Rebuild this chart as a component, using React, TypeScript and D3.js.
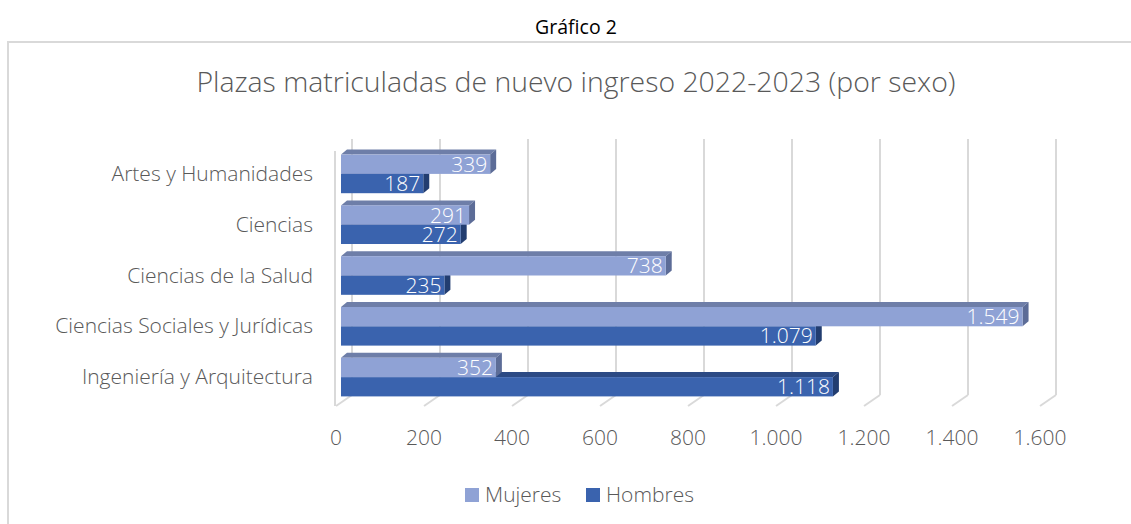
import React from "react";
import * as d3 from "d3";

const categories = [
  "Artes y Humanidades",
  "Ciencias",
  "Ciencias de la Salud",
  "Ciencias Sociales y Jurídicas",
  "Ingeniería y Arquitectura",
];
const mujeres = [339, 291, 738, 1549, 352];
const hombres = [187, 272, 235, 1079, 1118];
const ticks = [0, 200, 400, 600, 800, 1000, 1200, 1400, 1600];
const seriesNames = ["Mujeres", "Hombres"];

const W = 1131;
const H = 524;
const FONT = "'Open Sans', 'Noto Sans', sans-serif";
const GRAY = "#595959";
const FS = 21;

const fmt = (v: number) => {
  const s = String(v);
  return s.length > 3 ? s.slice(0, s.length - 3) + "." + s.slice(-3) : s;
};

export default function App() {
  const x = d3.scaleLinear().domain([0, 1600]).range([336, 1040]);
  const y = d3
    .scaleBand<string>()
    .domain(categories)
    .range([148.5, 402.5])
    .paddingInner(0.24)
    .paddingOuter(0.12);
  const barOff = 5;
  const backOff = 16;
  const dx = 6;
  const dy = -5;
  const floorFront = 406;
  const floorBack = 395;
  const gridTop = 139;

  const colors = {
    Mujeres: { front: "#8FA2D5", top: "#6E7EA8", side: "#5C6C97" },
    Hombres: { front: "#3A63AE", top: "#2C4A84", side: "#223D70" },
  } as Record<string, { front: string; top: string; side: string }>;

  const bar = (
    key: string,
    v: number,
    yTop: number,
    h: number,
    name: string
  ) => {
    const x0 = x(0) + barOff;
    const x1 = x(v) + barOff;
    const c = colors[name];
    return (
      <g key={key}>
        <polygon
          points={`${x0},${yTop} ${x0 + dx},${yTop + dy} ${x1 + dx},${yTop + dy} ${x1},${yTop}`}
          fill={c.top}
        />
        <polygon
          points={`${x1},${yTop} ${x1 + dx},${yTop + dy} ${x1 + dx},${yTop + h + dy} ${x1},${yTop + h}`}
          fill={c.side}
        />
        <rect x={x0} y={yTop} width={x1 - x0} height={h} fill={c.front} />
        <text
          x={x1 - 3}
          y={yTop + h / 2 + 7.5}
          textAnchor="end"
          fill="#ffffff"
          fontSize={FS}
          fontFamily={FONT}
          fontWeight={300}
        >
          {fmt(v)}
        </text>
      </g>
    );
  };

  return (
    <svg
      width={W}
      height={H}
      style={{ position: "absolute", left: 0, top: 0, background: "#fff" }}
    >
      <text
        x={576}
        y={34}
        textAnchor="middle"
        fontSize={19.5}
        fontFamily={FONT}
        fill="#000"
      >
        Gráfico 2
      </text>
      <path d={`M8,${H} V42 H${W}`} fill="none" stroke="#d9d9d9" strokeWidth={2} />
      <text
        x={576}
        y={92}
        textAnchor="middle"
        fontSize={28.4}
        fontFamily={FONT}
        fontWeight={300}
        fill={GRAY}
      >
        Plazas matriculadas de nuevo ingreso 2022-2023 (por sexo)
      </text>

      {/* back gridlines & floor */}
      {ticks.map((t) => (
        <g key={"g" + t}>
          <line
            x1={x(t) + backOff}
            x2={x(t) + backOff}
            y1={gridTop}
            y2={floorBack}
            stroke="#d9d9d9"
            strokeWidth={2}
          />
          <line
            x1={x(t) + backOff}
            x2={x(t)}
            y1={floorBack}
            y2={floorFront}
            stroke="#d9d9d9"
            strokeWidth={2}
          />
        </g>
      ))}
      <line x1={x(0) - 1} x2={x(0) - 1} y1={151} y2={floorFront} stroke="#d9d9d9" strokeWidth={2} />

      {/* bars */}
      {categories.map((c, i) => {
        const y0 = y(c)!;
        const h = y.bandwidth() / 2;
        return (
          <g key={c}>
            {bar(c + "h", hombres[i], y0 + h, h, "Hombres")}
            {bar(c + "m", mujeres[i], y0, h, "Mujeres")}
          </g>
        );
      })}

      {/* category labels */}
      {categories.map((c) => (
        <text
          key={"l" + c}
          x={313}
          y={y(c)! + y.bandwidth() / 2 + 7}
          textAnchor="end"
          fontSize={FS}
          fontFamily={FONT}
          fontWeight={300}
          fill={GRAY}
        >
          {c}
        </text>
      ))}

      {/* x tick labels */}
      {ticks.map((t) => (
        <text
          key={"t" + t}
          x={x(t)}
          y={445}
          textAnchor="middle"
          fontSize={FS}
          fontFamily={FONT}
          fontWeight={300}
          fill={GRAY}
        >
          {fmt(t)}
        </text>
      ))}

      {/* legend */}
      {seriesNames.map((s, i) => {
        const lx = [465, 586][i];
        return (
          <g key={"lg" + s}>
            <rect x={lx} y={488} width={14} height={14} fill={colors[s].front} />
            <text
              x={lx + 20}
              y={502}
              fontSize={FS}
              fontFamily={FONT}
              fontWeight={300}
              fill={GRAY}
            >
              {s}
            </text>
          </g>
        );
      })}
    </svg>
  );
}
